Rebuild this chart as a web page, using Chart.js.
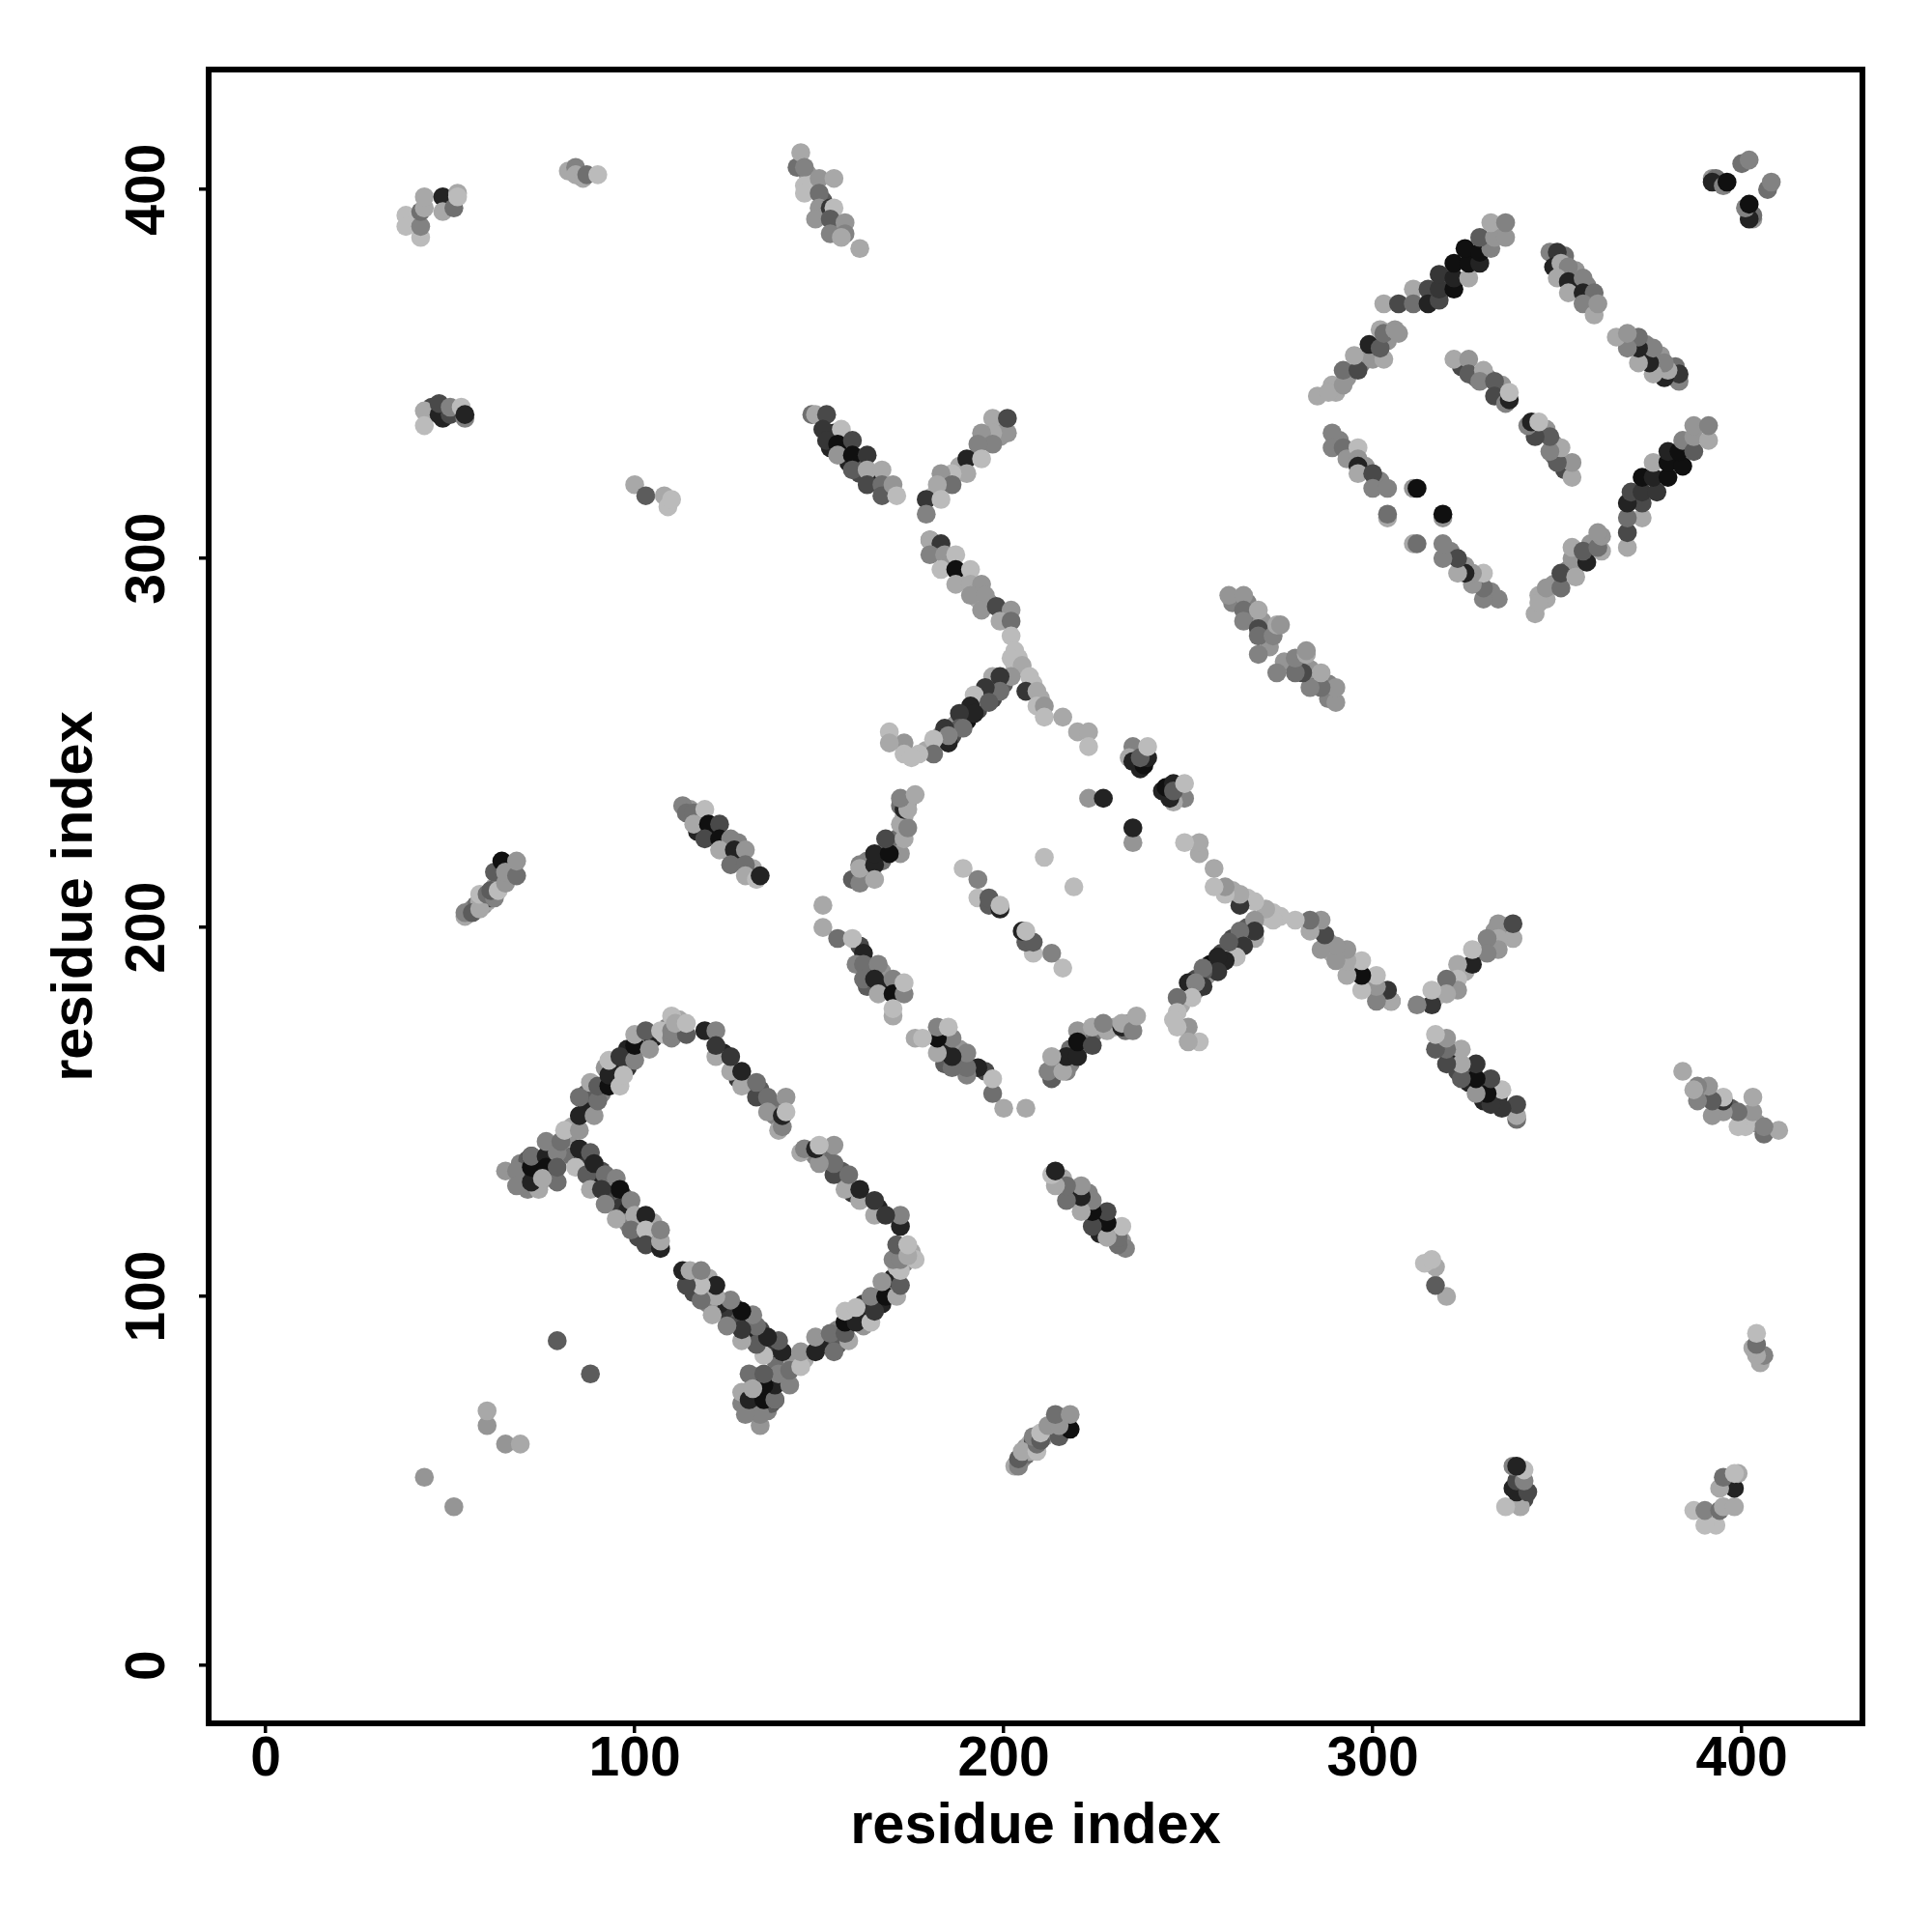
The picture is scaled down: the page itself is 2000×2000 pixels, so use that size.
<!DOCTYPE html>
<html>
<head>
<meta charset="utf-8">
<title>residue contacts</title>
<script src="https://cdn.jsdelivr.net/npm/chart.js@4"></script>
<style>
  html, body { margin: 0; padding: 0; background: #fff; }
  canvas { display: block; }
</style>
</head>
<body>
<canvas id="contactMap" width="2000" height="2000"></canvas>
<script>
// Contact map, one line per band. The map is symmetric, so only i < j is listed
const residueI = [
  55,56,57,58,59,59,60,61,62,63,
  153,157,158,160,161,164,165,168,154,156,
  195,199,199,188,184,181,
  182,185,189,192,193,196,200,
  203,204,208,210,
  200,197,194,193,190,187,186,183,179,
  163,164,167,170,171,173,172,174,
  161,164,168,167,172,163,
  262,266,267,271,272,270,272,
  289,290,293,297,301,304,298,
  352,352,355,359,355,358,
  291,294,298,302,
  324,328,331,335,335,
  115,118,117,121,125,128,128,132,
  87,87,91,92,95,98,98,102,102,105,108,109,112,112,
  70,74,74,78,77,82,83,83,69,77,78,74,71,79,71,74,75,73,
  86,90,91,93,94,97,96,98,101,101,105,105,98,
  124,128,134,138,138,
  147,148,151,152,155,155,
  45,48,49,52,
  236,238,237,
  38,38,42,42,42,43,43,48,48,51,52,52,
  82,84,84,86,87,90,
  144,145,146,146,146,150,154,150,150,149,153,154,153,153,157,157,156,161,
  43,43,47,47,50,50,54,53,54,
  148,149,152,151,152,156,155,155,159,159,159,163,163,167,163,167,167,170,171,
  197,201,197,201,194,197,193,190,194,190,186,183,186,182,179,183,179,
  180,180,183,180,184,187,183,187,191,187,191,194,191,195,194,198,202,199,202,202,
  203,202,205,207,206,209,209,211,211,216,220,223,223,
  202,197,199,199,195,192,192,196,191,192,188,188,189,184,185,185,181,181,177,173,173,175,169,169,
  189,193,193,196,196,199,199,211,
  159,161,161,161,165,165,165,172,169,168,173,172,174,173,174,172,176,
  151,151,155,159,162,160,162,166,162,165,170,166,170,173,173,170,170,
  235,234,235,238,239,237,239,223,227,
  261,265,265,265,269,269,269,269,273,274,275,
  285,288,292,292,296,295,300,303,299,302,302,303,306,307,
  303,307,311,311,315,315,318,318,318,322,322,322,326,326,329,325,329,332,329,333,336,332,336,
  348,350,349,351,353,350,353,357,353,357,360,357,360,361,
  289,289,292,293,296,296,296,296,300,300,304,
  311,312,304,304,
  322,326,326,330,329,333,333,336,337,337,
  54,54,56,58,58,60,62,61,63,62,64,65,65,68,68,
  113,114,116,119,116,120,123,119,123,126,123,127,130,126,130,130,133,134,
  392,393,392,395,396,400,402,
  65,68,68,72,72,72,72,76,76,75,76,79,79,84,85,80,81,85,
  85,85,89,90,88,90,93,93,93,96,97,96,100,100,100,103,104,107,110,110,114,110,111,114,
  119,122,122,122,126,126,129,129,133,133,136,136,141,139,140,140,141,
  88,87,89,92,95,96,88,91,92,99,95,100,103,99,103,103,107,107,107,
  79,43,60,60,100,103,108,109,110,
]
const residueJ = [
  204,205,206,207,206,208,207,208,211,213,
  330,329,326,326,323,322,321,319,334,330,
  332,336,333,325,321,317,
  303,299,295,291,289,288,285,
  271,273,266,262,
  266,262,263,259,256,255,252,252,248,
  218,215,218,222,224,230,233,234,
  195,188,184,188,183,184,
  288,288,284,280,281,283,276,
  347,345,349,353,356,359,355,
  382,377,374,370,378,374,
  332,328,325,321,
  352,349,349,345,347,
  232,229,226,226,222,219,223,216,
  151,155,155,162,161,162,167,168,170,170,171,173,172,175,
  132,136,133,136,140,143,138,146,136,137,133,130,137,131,129,129,135,133,
  137,131,134,130,127,127,124,123,120,116,116,120,120,
  166,159,156,152,149,
  404,402,397,393,390,388,
  341,338,340,340,
  247,247,243,
  393,390,387,390,394,395,398,398,394,395,399,398,
  405,406,404,403,404,404,
  406,410,406,401,399,403,403,399,395,392,395,395,392,388,391,388,387,384,
  340,336,339,342,339,341,338,341,339,
  339,339,339,335,332,335,331,328,332,328,324,328,324,324,320,320,317,320,317,
  338,334,334,338,334,331,331,327,327,323,323,323,320,320,316,316,312,
  305,305,304,301,301,301,297,297,297,293,293,293,290,290,286,287,286,283,283,279,
  275,273,271,268,264,264,260,260,257,257,253,253,249,
  268,268,268,264,265,263,261,261,260,258,258,254,254,254,250,252,251,247,247,250,247,246,253,250,
  216,213,208,206,208,205,206,219,
  213,212,217,216,217,220,213,220,220,224,224,228,227,232,232,235,236,
  206,200,197,197,193,190,190,190,186,186,186,182,182,182,185,176,178,
  249,246,245,244,246,246,249,235,235,
  290,290,286,283,286,281,279,274,279,282,282,
  344,345,347,351,351,355,354,354,358,357,362,361,362,361,
  369,369,373,369,373,369,370,373,377,373,376,380,376,380,380,384,383,384,387,387,387,391,391,
  383,383,379,380,379,376,375,376,372,372,372,369,366,369,
  334,330,330,327,330,327,325,323,323,319,319,
  319,319,311,312,
  354,354,350,351,348,348,344,342,343,345,
  203,204,204,205,209,209,208,210,210,215,218,212,215,214,218,
  233,231,231,232,228,228,228,224,224,224,221,221,221,217,217,214,213,214,
  403,403,402,401,402,407,408,
  134,134,130,131,135,138,138,138,135,132,142,139,135,135,140,142,145,145,
  149,154,149,153,158,157,157,160,164,157,160,165,164,168,171,172,167,172,170,172,171,176,174,174,
  172,172,165,168,161,165,157,161,154,158,154,150,154,145,146,149,150,
  139,133,136,133,132,129,129,129,125,126,121,122,122,118,118,114,113,115,118,
  88,51,65,69,320,317,317,314,316,
]
// Contact strength, 0 is the weakest (palest) and 9 the strongest (darkest)
const contactScore = [
  0,2,4,1,2,5,1,6,1,2,
  8,9,8,5,6,2,8,4,8,2,
  3,2,2,1,3,0,
  5,3,1,3,1,2,2,
  0,0,0,1,
  5,6,7,6,9,2,6,3,1,
  3,7,4,8,4,1,4,2,
  6,7,8,2,5,5,
  3,3,4,2,1,2,2,
  1,1,2,3,3,2,2,
  4,2,7,3,2,3,
  3,3,2,3,
  6,4,3,7,2,
  2,2,8,8,9,6,3,1,
  8,5,3,2,8,7,8,6,3,8,0,3,1,1,
  8,8,8,6,4,2,4,1,3,9,9,6,5,4,3,1,9,8,
  7,8,6,8,6,5,7,8,5,6,7,1,3,
  8,7,5,4,3,
  2,0,5,8,4,2,
  6,8,8,4,
  8,7,8,
  0,0,0,3,4,1,1,8,1,4,1,0,
  1,3,1,1,4,0,
  4,1,3,0,0,2,1,4,2,2,7,0,5,3,2,3,1,1,
  1,0,8,6,6,3,3,0,8,
  4,1,6,7,7,0,9,2,6,9,5,7,1,1,6,4,5,2,0,
  1,2,1,6,2,3,3,8,0,1,0,2,4,1,7,0,3,
  4,1,7,3,2,0,0,9,0,1,1,2,2,2,2,6,2,1,4,0,
  0,0,1,0,7,1,0,2,0,1,1,1,0,
  2,1,7,4,7,0,0,5,8,8,7,5,4,7,8,3,0,4,0,2,0,0,0,1,
  0,3,0,5,5,8,0,0,
  5,3,3,1,8,8,1,2,9,6,1,1,3,8,1,3,1,
  1,1,4,0,8,3,4,3,4,8,3,1,9,3,0,1,0,
  3,1,8,9,8,5,0,2,8,
  2,2,4,3,1,6,4,3,3,1,2,
  1,1,2,4,6,1,2,1,8,5,1,4,2,2,
  1,6,1,4,6,8,6,7,7,9,8,9,1,9,8,9,9,3,5,2,2,1,3,
  3,7,8,1,3,1,8,3,1,8,4,3,1,2,
  3,3,4,2,0,2,8,1,6,3,3,
  2,9,1,4,
  1,2,5,1,3,5,6,3,8,0,
  1,3,5,1,0,4,3,5,0,5,9,2,2,4,2,
  3,4,4,0,1,9,6,6,9,3,1,8,2,4,4,1,0,8,
  2,4,8,3,9,4,3,
  2,3,3,8,9,8,4,8,9,1,3,3,5,0,8,4,0,2,
  8,4,2,4,1,5,9,8,0,0,0,7,3,9,1,5,2,0,3,3,5,0,1,0,
  8,3,1,7,1,7,1,8,6,4,4,2,2,1,3,8,0,
  5,5,8,4,3,9,1,7,3,3,1,1,8,4,0,6,8,1,3,
  5,2,2,1,1,5,1,0,0,
]
const tickValues = [0, 100, 200, 300, 400]
const axisTitle = "residue index"

const fontFamily = '"Liberation Sans", Arial, sans-serif'

function greyOf(score) {
  const g = 187 - 19 * score
  return `rgb(${g},${g},${g})`
}

// both halves of the map
const puntos = []
const colores = []
residueI.forEach((i, n) => {
  puntos.push({ x: i, y: residueJ[n] })
  colores.push(greyOf(contactScore[n]))
})
residueI.forEach((i, n) => {
  puntos.push({ x: residueJ[n], y: i })
  colores.push(greyOf(contactScore[n]))
})

// R style box round the plot
const marco = {
  id: "marco",
  afterDatasetsDraw(chart) {
    const { left, top, right, bottom } = chart.chartArea
    const ctx = chart.ctx
    ctx.save()
    ctx.strokeStyle = "#000"
    ctx.lineWidth = 6
    ctx.strokeRect(left, top, right - left, bottom - top)
    ctx.restore()
  },
}

function fijarTicks(scale) {
  scale.ticks = tickValues.map((value) => ({ value }))
}

new Chart(document.getElementById("contactMap"), {
  type: "scatter",
  plugins: [marco],
  data: {
    datasets: [
      {
        data: puntos,
        pointBackgroundColor: colores,
        pointRadius: 9.8,
        pointBorderWidth: 0,
        pointHoverRadius: 9.8,
      },
    ],
  },
  options: {
    responsive: false,
    devicePixelRatio: 1,
    animation: false,
    layout: { padding: { top: 72, right: 72, left: 0, bottom: 0 } },
    plugins: { legend: { display: false }, tooltip: { enabled: false } },
    scales: {
      x: {
        type: "linear",
        min: -15.45,
        max: 432.7,
        afterBuildTicks: fijarTicks,
        afterFit: (scale) => { scale.height = 216 },
        border: { display: false },
        grid: { drawOnChartArea: false, color: "#000", lineWidth: 3.5, tickLength: 10 },
        ticks: {
          color: "#000",
          padding: -6,
          maxRotation: 0,
          font: { family: fontFamily, size: 57, weight: "bold" },
        },
        title: {
          display: true,
          text: axisTitle,
          color: "#000",
          padding: { top: 0, bottom: 73 },
          font: { family: fontFamily, size: 59.5, weight: "bold" },
        },
      },
      y: {
        type: "linear",
        min: -15.7,
        max: 432.5,
        afterBuildTicks: fijarTicks,
        afterFit: (scale) => { scale.width = 216 },
        border: { display: false },
        grid: { drawOnChartArea: false, color: "#000", lineWidth: 3.5, tickLength: 10 },
        ticks: {
          color: "#000",
          padding: 4,
          minRotation: 90,
          maxRotation: 90,
          crossAlign: "center",
          font: { family: fontFamily, size: 57, weight: "bold" },
        },
        title: {
          display: true,
          text: axisTitle,
          color: "#000",
          padding: { top: 43, bottom: 0 },
          font: { family: fontFamily, size: 59.5, weight: "bold" },
        },
      },
    },
  },
})
</script>
</body>
</html>
